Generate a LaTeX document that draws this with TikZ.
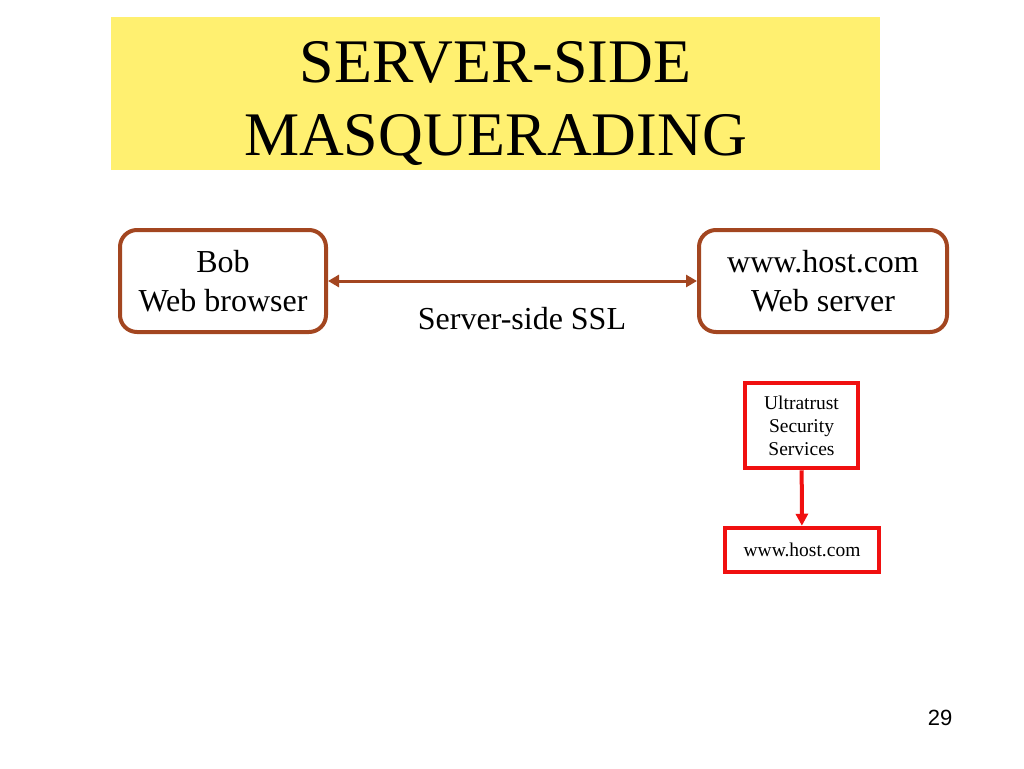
\documentclass[tikz,border=0pt]{standalone}
\usepackage{fontspec}
\setmainfont{Liberation Serif}
\newfontfamily\numfont{Liberation Sans}
\usepackage{tikz}
\usetikzlibrary{positioning,
        shapes,
        arrows.meta}
\usepackage{xcolor}
\definecolor{titleyellow}{RGB}{255,240,112}
\definecolor{linkbrown}{RGB}{163,70,32}
\definecolor{certred}{RGB}{240,16,16}

\begin{document}
\begin{tikzpicture}[x=1pt,y=-1pt,
            party/.style={rectangle,rounded corners=17pt,draw=linkbrown,line width=4pt,inner sep=0pt,align=center,font=\fontsize{32}{39}\selectfont},
            cert/.style={rectangle,draw=certred,line width=4.5pt,inner sep=0pt,align=center,font=\fontsize{19.5}{23}\selectfont}]
            \useasboundingbox (0,0) rectangle (1024,768);
            \node [rectangle,fill=titleyellow,minimum width=769pt,minimum height=153pt,inner sep=0pt] (Title) at (495.5,93.5) {};
            \node [align=center,font=\fontsize{62}{73}\selectfont] (TitleText) at (495.5,103) {SERVER-SIDE\\MASQUERADING};
            \node [party,minimum width=206pt,minimum height=102pt] (Bob) at (223,281) {Bob\\Web browser};
            \node [party,minimum width=248pt,minimum height=102pt] (Host) at (823,281) {www.host.com\\Web server};
            \node [font=\fontsize{32}{39}\selectfont] (SSL) at (522,319) {Server-side SSL};
            \node [cert,minimum width=113pt,minimum height=85pt] (CA) at (801.5,425.5) {Ultratrust\\Security\\Services};
            \node [cert,minimum width=154pt,minimum height=44pt] (Cert) at (802,550) {www.host.com};
            \node [font=\numfont\fontsize{22}{24}\selectfont] (Page) at (940,718) {29};

            \draw [{Triangle[length=11pt,width=12pt]}-{Triangle[length=11pt,width=12pt]}, draw=linkbrown, fill=linkbrown, line width=3pt](Bob) -- (Host);
            \draw [-{Triangle[length=12pt,width=12pt]}, draw=certred, fill=certred, line width=4pt](CA) -- (Cert);
        \end{tikzpicture}
\end{document}
